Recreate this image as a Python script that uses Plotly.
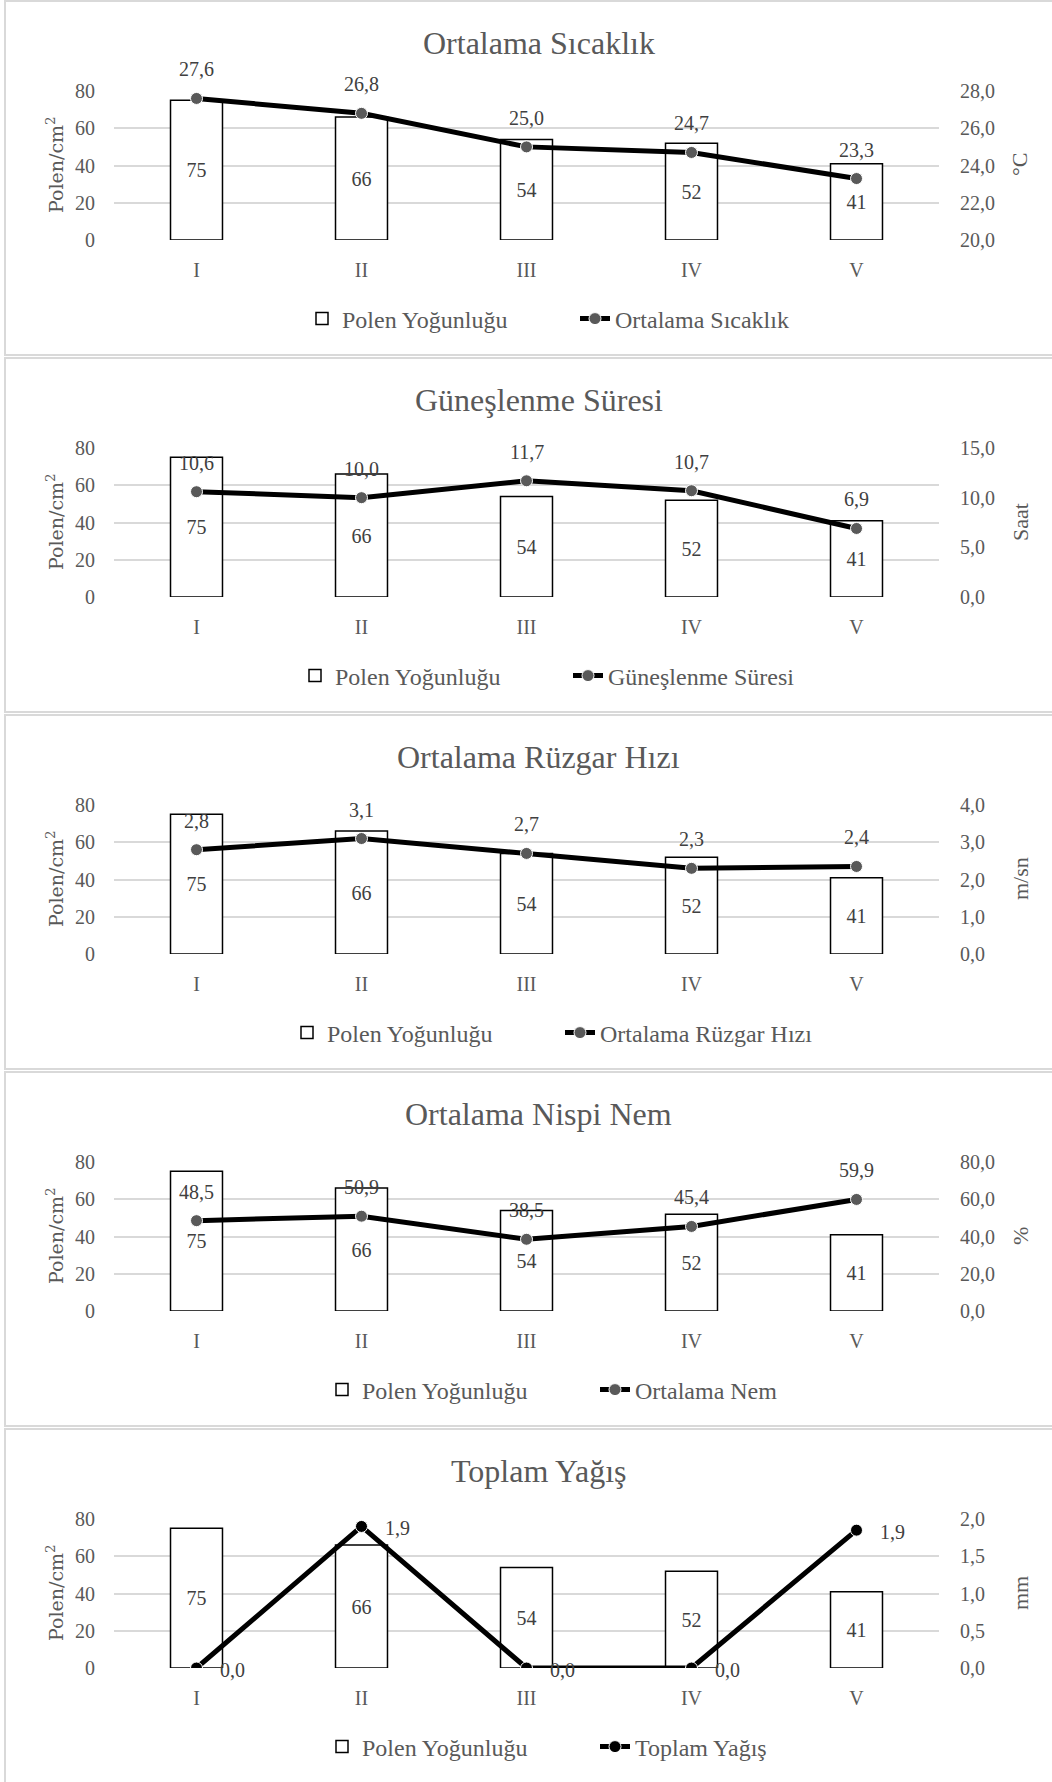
import plotly.graph_objects as go

categories = ["I", "II", "III", "IV", "V"]
pollen = [75, 66, 54, 52, 41]

temperature = [27.6, 26.8, 25.0, 24.7, 23.3]
sunshine = [10.6, 10.0, 11.7, 10.7, 6.9]
wind = [2.8, 3.1, 2.7, 2.3, 2.35]
humidity = [48.5, 50.9, 38.5, 45.4, 59.9]
rain = [0.0, 1.9, 0.0, 0.0, 1.85]

titles = ["Ortalama Sıcaklık", "Güneşlenme Süresi", "Ortalama Rüzgar Hızı",
          "Ortalama Nispi Nem", "Toplam Yağış"]
line_names = ["Ortalama Sıcaklık", "Güneşlenme Süresi", "Ortalama Rüzgar Hızı",
              "Ortalama Nem", "Toplam Yağış"]
right_titles = ["°C", "Saat", "m/sn", "%", "mm"]
right_ranges = [[20, 28], [0, 15], [0, 4], [0, 80], [0, 2]]
right_dticks = [2, 5, 1, 20, 0.5]
series = [temperature, sunshine, wind, humidity, rain]

W, H = 1052, 1782
FONT = "Liberation Serif"
GREY = "#595959"
LBL = "#404040"
PERIOD = 357
legend_text_left = [344, 337, 329, 364, 364]

def py(p):
    return 1 - p / H

x0d, x1d = 114 / W, 939 / W

fig = go.Figure()
layout = dict(
    width=W, height=H, margin=dict(l=0, r=0, t=0, b=0, pad=0, autoexpand=False),
    paper_bgcolor="white", plot_bgcolor="rgba(0,0,0,0)",
    separators=",.", font=dict(family=FONT, color=GREY, size=20),
    showlegend=True, bargap=0.5,
)
shapes = []
annotations = []

for k in range(5):
    off = PERIOD * k
    sfx = "" if k == 0 else str(k + 1)
    xid = "x" + sfx
    yl = 2 * k + 1
    yr = 2 * k + 2
    ylid = "y" + ("" if yl == 1 else str(yl))
    yrid = "y" + str(yr)
    legid = "legend" + sfx

    layout["xaxis" + sfx] = dict(
        domain=[x0d, x1d], anchor=ylid, type="category", automargin=False,
        showgrid=False, zeroline=False, showline=False,
        ticks="outside", ticklen=12, tickcolor="rgba(0,0,0,0)",
        tickfont=dict(family=FONT, size=20, color=GREY),
    )
    ydom = [py(240 + off), py(91 + off)]
    layout["yaxis" + ("" if yl == 1 else str(yl))] = dict(
        domain=ydom, anchor=xid, range=[0, 80], dtick=20, automargin=False,
        showgrid=True, gridcolor="#d9d9d9", gridwidth=1.5,
        zeroline=False, showline=False,
        ticks="outside", ticklen=14, tickcolor="rgba(0,0,0,0)",
        tickfont=dict(family=FONT, size=20, color=GREY),
    )
    layout["yaxis" + str(yr)] = dict(
        domain=ydom, anchor=xid, overlaying=ylid, side="right", automargin=False,
        range=right_ranges[k], dtick=right_dticks[k], tickformat=".1f",
        showgrid=False, zeroline=False, showline=False,
        ticks="outside", ticklen=16, tickcolor="rgba(0,0,0,0)",
        tickfont=dict(family=FONT, size=20, color=GREY),
    )
    layout[legid] = dict(
        orientation="h", xref="container", yref="container",
        x=(legend_text_left[k] - 42) / W, xanchor="left",
        y=py(319 + off), yanchor="middle",
        entrywidth=228, entrywidthmode="pixels",
        font=dict(family=FONT, size=24, color=GREY),
        bgcolor="rgba(0,0,0,0)",
    )

    fig.add_trace(go.Bar(
        x=categories, y=pollen, xaxis=xid, yaxis=ylid, width=0.315,
        name="Polen Yoğunluğu", legend=legid,
        marker=dict(color="white", line=dict(color="black", width=1.5)),
        text=[str(v) for v in pollen], textposition="inside",
        insidetextanchor="middle", textangle=0,
        textfont=dict(family=FONT, size=20, color=LBL),
    ))
    mcolor = "black" if k == 4 else GREY
    fig.add_trace(go.Scatter(
        x=categories, y=series[k], xaxis=xid, yaxis=yrid,
        mode="lines+markers", name=line_names[k], legend=legid,
        line=dict(color="black", width=5),
        marker=dict(size=12, color=mcolor, line=dict(color="white", width=1)),
    ))

    for c, v in zip(categories, series[k]):
        txt = f"{v:.1f}".replace(".", ",")
        if k == 4:
            annotations.append(dict(x=c, y=v, xref=xid, yref=yrid, text=txt,
                                    showarrow=False, xshift=36, yshift=-2,
                                    font=dict(family=FONT, size=20, color=LBL)))
        else:
            annotations.append(dict(x=c, y=v, xref=xid, yref=yrid, text=txt,
                                    showarrow=False, yshift=29,
                                    font=dict(family=FONT, size=20, color=LBL)))

    # chart title
    annotations.append(dict(x=x0d + (x1d - x0d) / 2 + 12 / W, y=py(43 + off),
                            xref="paper", yref="paper", text=titles[k],
                            showarrow=False, xanchor="center", yanchor="middle",
                            font=dict(family=FONT, size=32, color=GREY)))
    # axis titles
    annotations.append(dict(x=55 / W, y=py(165 + off), xref="paper", yref="paper",
                            text="Polen/cm<sup>2</sup>", textangle=-90,
                            showarrow=False, xanchor="center", yanchor="middle",
                            font=dict(family="DejaVu Serif", size=19, color=GREY)))
    annotations.append(dict(x=1020 / W, y=py(165 + off), xref="paper", yref="paper",
                            text=right_titles[k], textangle=-90,
                            showarrow=False, xanchor="center", yanchor="middle",
                            font=dict(family=FONT, size=22, color=GREY)))
    # panel border
    shapes.append(dict(type="rect", xref="paper", yref="paper",
                       x0=5 / W, x1=1.01, y0=py(355 + off), y1=py(1 + off),
                       line=dict(color="#d9d9d9", width=2), layer="below"))

layout["shapes"] = shapes
layout["annotations"] = annotations
fig.update_layout(**layout)
fig.write_html("out.html")
